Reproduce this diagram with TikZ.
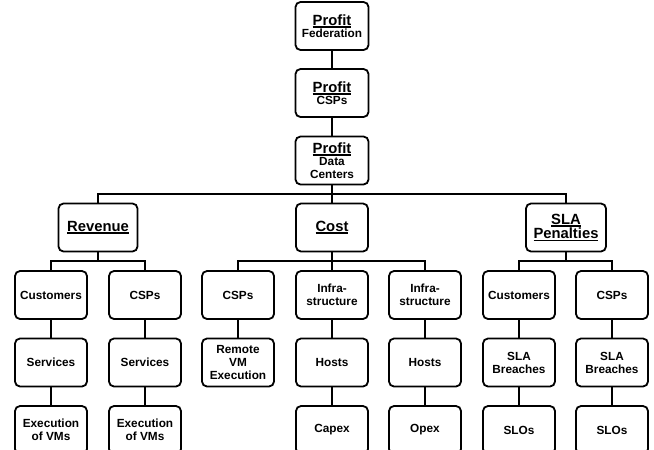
\documentclass[tikz,border=0pt]{standalone}
\usepackage{fontspec}
\setmainfont{Liberation Sans}
\newcommand\myul[1]{\setbox0\hbox{#1}\rlap{\rule[-2.6pt]{\wd0}{1.5pt}}\box0}
\newcommand\smallf{\fontsize{11.8}{13}\selectfont}
\newcommand\bigf{\fontsize{14.8}{15}\selectfont}
\tikzset{
  box/.style={draw, line width=1.8pt, rounded corners=5pt, minimum width=72pt, minimum height=48pt,
    inner sep=0pt, align=center, font=\bfseries\smallf},
  wide/.style={box, minimum width=79pt},
  conn/.style={line width=2pt}
}
\begin{document}
\begin{tikzpicture}[x=1pt,y=-1pt]
\useasboundingbox (0,0) rectangle (654,450);
% top chain
\node[box, minimum width=73pt] (fed) at (332,26) {{\bigf\myul{Profit}}\\[-1pt]Federation};
\node[box, minimum width=73pt] (pcsp) at (332,93) {{\bigf\myul{Profit}}\\[-1pt]CSPs};
\node[box, minimum width=73pt] (pdc) at (332,160.5) {{\bigf\myul{Profit}}\\[-1pt]Data\\Centers};
% second level
\node[wide] (rev) at (98,227.5) {\bigf\myul{Revenue}};
\node[box] (cost) at (332,227.5) {\bigf\myul{Cost}};
\node[wide, minimum width=80pt] (sla) at (566,227.5) {{\bigf\myul{SLA}}\\{\bigf\myul{Penalties}}};
% revenue branch
\node[box] (rc) at (51,295) {Customers};
\node[box] (rs1) at (51,362.5) {Services};
\node[box] (re1) at (51,430) {Execution\\of VMs};
\node[box] (rp) at (145,295) {CSPs};
\node[box] (rs2) at (145,362.5) {Services};
\node[box] (re2) at (145,430) {Execution\\of VMs};
% cost branch
\node[box] (cc) at (238,295) {CSPs};
\node[box] (cr) at (238,362.5) {Remote\\VM\\Execution};
\node[box] (ci1) at (332,295) {Infra-\\structure};
\node[box] (ch1) at (332,362.5) {Hosts};
\node[box] (cx) at (332,430) {Capex};
\node[box] (ci2) at (425,295) {Infra-\\structure};
\node[box] (ch2) at (425,362.5) {Hosts};
\node[box] (co) at (425,430) {Opex};
% sla branch
\node[box] (sc) at (519,295) {Customers};
\node[box] (sb1) at (519,362.5) {SLA\\Breaches};
\node[box] (so1) at (519,430) {SLOs};
\node[box] (sp) at (612,295) {CSPs};
\node[box] (sb2) at (612,362.5) {SLA\\Breaches};
\node[box] (so2) at (612,430) {SLOs};
% connectors
\draw[conn] (fed) -- (pcsp);
\draw[conn] (pcsp) -- (pdc);
\draw[conn] (pdc.south) -- ++(0,9) -| (rev.north);
\draw[conn] (pdc.south) -- ++(0,9) -| (cost.north);
\draw[conn] (pdc.south) -- ++(0,9) -| (sla.north);
\draw[conn] (rev.south) -- ++(0,9) -| (rc.north);
\draw[conn] (rev.south) -- ++(0,9) -| (rp.north);
\draw[conn] (cost.south) -- ++(0,9) -| (cc.north);
\draw[conn] (cost.south) -- ++(0,9) -| (ci1.north);
\draw[conn] (cost.south) -- ++(0,9) -| (ci2.north);
\draw[conn] (sla.south) -- ++(0,9) -| (sc.north);
\draw[conn] (sla.south) -- ++(0,9) -| (sp.north);
\draw[conn] (rc) -- (rs1);
\draw[conn] (rs1) -- (re1);
\draw[conn] (rp) -- (rs2);
\draw[conn] (rs2) -- (re2);
\draw[conn] (cc) -- (cr);
\draw[conn] (ci1) -- (ch1);
\draw[conn] (ch1) -- (cx);
\draw[conn] (ci2) -- (ch2);
\draw[conn] (ch2) -- (co);
\draw[conn] (sc) -- (sb1);
\draw[conn] (sb1) -- (so1);
\draw[conn] (sp) -- (sb2);
\draw[conn] (sb2) -- (so2);
\end{tikzpicture}
\end{document}
